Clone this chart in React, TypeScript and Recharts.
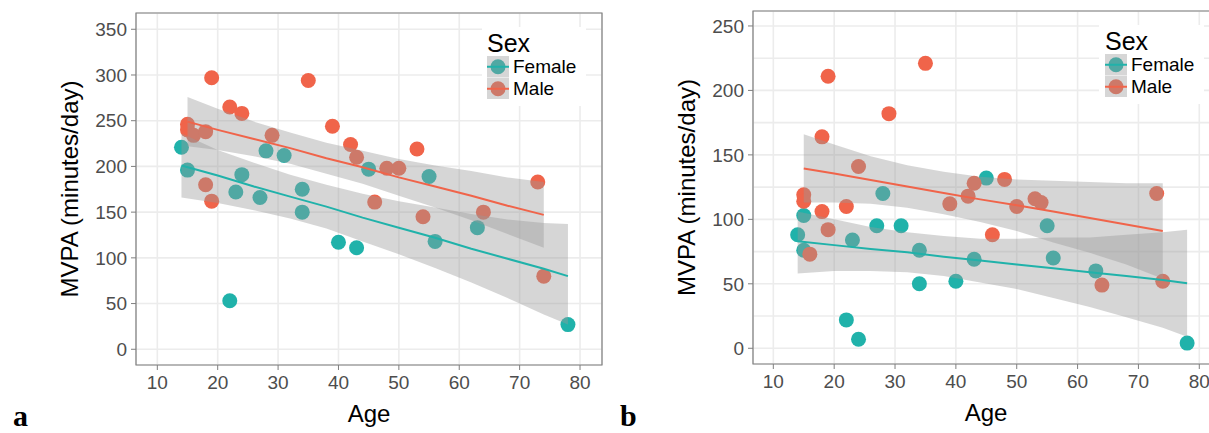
import { ComposedChart, Scatter, Line, Area, XAxis, YAxis, CartesianGrid, ReferenceArea, Legend, Label } from 'recharts'

const FEMALE = '#20B2AA'
const MALE = '#F0644A'
const BAND = '#999999'
const FONT = '"Liberation Sans", Arial, sans-serif'

// panel a – observed points
const femaleAgeA = [14, 15, 22, 23, 24, 27, 28, 31, 34, 34, 40, 43, 45, 55, 56, 63, 78]
const femaleMvpaA = [221, 196, 53, 172, 191, 166, 217, 212, 175, 150, 117, 111, 197, 189, 118, 133, 27]
const maleAgeA = [15, 15, 16, 18, 18, 19, 19, 22, 24, 29, 35, 39, 42, 43, 46, 48, 50, 53, 54, 64, 73, 74]
const maleMvpaA = [246, 240, 234, 238, 180, 162, 297, 265, 258, 234, 294, 244, 224, 210, 161, 198, 198, 219, 145, 150, 183, 80]

// panel b – observed points
const femaleAgeB = [14, 15, 15, 22, 23, 24, 27, 28, 31, 34, 34, 40, 43, 45, 55, 56, 63, 78]
const femaleMvpaB = [88, 103, 76, 22, 84, 7, 95, 120, 95, 76, 50, 52, 69, 132, 95, 70, 60, 4]
const maleAgeB = [15, 15, 16, 18, 18, 19, 19, 22, 24, 29, 35, 39, 42, 43, 46, 48, 50, 53, 54, 64, 73, 74]
const maleMvpaB = [119, 114, 73, 164, 106, 211, 92, 110, 141, 182, 221, 112, 118, 128, 88, 131, 110, 116, 113, 49, 120, 52]

const fitAgeF = [14, 20, 26, 32, 38, 44, 50, 56, 62, 68, 74, 78]
const fitAgeM = [15, 20, 26, 32, 38, 44, 50, 56, 62, 68, 74]

// panel a – lm fit with 95% band
const fitFA = [201, 190, 178, 167, 156, 144, 133, 122, 110, 99, 88, 80]
const loFA = [166, 160, 152, 143, 132, 118, 104, 89, 73, 56, 38, 27]
const hiFA = [236, 218, 204, 191, 180, 170, 162, 155, 148, 142, 138, 137]
const fitMA = [249, 240, 230, 220, 209, 199, 188, 178, 168, 157, 147]
const loMA = [222, 218, 211, 203, 192, 181, 168, 155, 141, 126, 111]
const hiMA = [276, 263, 249, 237, 226, 217, 208, 201, 195, 188, 183]

// panel b – lm fit with 95% band
const fitFB = [83, 80, 77, 74.5, 71, 68, 65, 62, 59, 56, 53, 50.5]
const loFB = [58, 60, 60, 59, 56, 51, 46, 39, 32, 24, 16, 9]
const hiFB = [106, 100, 94, 90, 87, 85, 85, 86, 86, 88, 90, 92]
const fitMB = [139.5, 135.5, 130.5, 125.5, 120.5, 115.5, 111, 106, 101, 96, 91]
const loMB = [113, 113, 112, 109, 104, 98, 91, 82, 74, 65, 54]
const hiMB = [166, 158, 149, 142, 137, 133, 131, 130, 129, 128, 128]

const xTicks = [10, 20, 30, 40, 50, 60, 70, 80]
const yTicksA = [0, 50, 100, 150, 200, 250, 300, 350]
const yGridA = [0, 25, 50, 75, 100, 125, 150, 175, 200, 225, 250, 275, 300, 325, 350]
const yTicksB = [0, 50, 100, 150, 200, 250]
const yGridB = [0, 25, 50, 75, 100, 125, 150, 175, 200, 225, 250]

function toPoints(ages: number[], vals: number[]) {
  return ages.map((age, i) => ({ age, mvpa: vals[i] }))
}

function fitTable(fFit: number[], fLo: number[], fHi: number[], mFit: number[], mLo: number[], mHi: number[]) {
  const ages = Array.from(new Set([...fitAgeF, ...fitAgeM])).sort((a, b) => a - b)
  return ages.map(age => {
    const i = fitAgeF.indexOf(age)
    const j = fitAgeM.indexOf(age)
    return {
      age,
      fFit: i >= 0 ? fFit[i] : undefined,
      fBand: i >= 0 ? [fLo[i], fHi[i]] : undefined,
      mFit: j >= 0 ? mFit[j] : undefined,
      mBand: j >= 0 ? [mLo[j], mHi[j]] : undefined,
    }
  })
}

const dot = (color: string) => (p: any) => <circle cx={p.cx} cy={p.cy} r={7.5} fill={color} />

function KeySwatch({ color }: { color: string }) {
  return (
    <svg width={22} height={21.5} style={{ display: 'block' }}>
      <rect x={0} y={0} width={22} height={21.5} fill="#ffffff" />
      <circle cx={11} cy={10.75} r={7.5} fill={color} />
      <rect x={0} y={0} width={22} height={21.5} fill={BAND} fillOpacity={0.4} />
      <line x1={0} x2={22} y1={10.75} y2={10.75} stroke={color} strokeWidth={2} />
    </svg>
  )
}

function SexLegend({ padLeft }: { padLeft: number }) {
  const row = (label: string, color: string) => (
    <div style={{ display: 'flex', alignItems: 'center', height: 21.5 }}>
      <KeySwatch color={color} />
      <span style={{ marginLeft: 4, fontSize: 19, lineHeight: '21.5px', color: '#000' }}>{label}</span>
    </div>
  )
  return (
    <div style={{ background: '#fff', fontFamily: FONT, padding: `4px 10px 7px ${padLeft}px` }}>
      <div style={{ fontSize: 25, lineHeight: '25px', color: '#000' }}>Sex</div>
      {row('Female', FEMALE)}
      {row('Male', MALE)}
    </div>
  )
}

interface PanelProps {
  width: number
  margin: { top: number; right: number; left: number; bottom: number }
  xDomain: [number, number]
  yDomain: [number, number]
  yTicks: number[]
  yGrid: number[]
  female: { age: number; mvpa: number }[]
  male: { age: number; mvpa: number }[]
  table: ReturnType<typeof fitTable>
  legendAt: { left: number; top: number; padLeft: number }
}

function Panel(p: PanelProps) {
  const tick = { fill: '#4d4d4d', fontSize: 19, fontFamily: FONT }
  return (
    <ComposedChart width={p.width} height={433} data={p.table} margin={p.margin}>
      <CartesianGrid yAxisId="grid" stroke="#ececec" strokeWidth={1.6} />
      <XAxis
        type="number"
        dataKey="age"
        domain={p.xDomain}
        ticks={xTicks}
        allowDataOverflow
        axisLine={false}
        tickLine={{ stroke: '#7f7f7f' }}
        tickSize={5}
        tickMargin={6}
        tick={tick}
        height={62}
      >
        <Label value="Age" position="insideBottom" offset={5} fill="#000" fontSize={24} fontFamily={FONT} />
      </XAxis>
      <YAxis
        type="number"
        domain={p.yDomain}
        ticks={p.yTicks}
        allowDataOverflow
        axisLine={false}
        tickLine={{ stroke: '#7f7f7f' }}
        tickSize={5}
        tickMargin={4}
        tick={tick}
        width={134}
      >
        <Label value="MVPA (minutes/day)" angle={-90} position="center" fill="#000" fontSize={24} fontFamily={FONT} />
      </YAxis>
      <YAxis yAxisId="grid" type="number" domain={p.yDomain} ticks={p.yGrid} allowDataOverflow hide />
      <Scatter data={p.female} dataKey="mvpa" fill={FEMALE} shape={dot(FEMALE)} isAnimationActive={false} zIndex={50} />
      <Scatter data={p.male} dataKey="mvpa" fill={MALE} shape={dot(MALE)} isAnimationActive={false} zIndex={50} />
      <Area dataKey="fBand" type="linear" fill={BAND} fillOpacity={0.4} stroke="none" connectNulls isAnimationActive={false} activeDot={false} zIndex={100} />
      <Area dataKey="mBand" type="linear" fill={BAND} fillOpacity={0.4} stroke="none" connectNulls isAnimationActive={false} activeDot={false} zIndex={100} />
      <Line dataKey="fFit" type="linear" stroke={FEMALE} strokeWidth={2} dot={false} activeDot={false} connectNulls isAnimationActive={false} zIndex={400} />
      <Line dataKey="mFit" type="linear" stroke={MALE} strokeWidth={2} dot={false} activeDot={false} connectNulls isAnimationActive={false} zIndex={400} />
      <ReferenceArea
        x1={p.xDomain[0]}
        x2={p.xDomain[1]}
        y1={p.yDomain[0]}
        y2={p.yDomain[1]}
        fill="none"
        stroke="#7f7f7f"
        strokeWidth={1.2}
        ifOverflow="visible"
      />
      <Legend
        layout="vertical"
        align="center"
        verticalAlign="middle"
        content={() => <SexLegend padLeft={p.legendAt.padLeft} />}
        wrapperStyle={{ left: p.legendAt.left, top: p.legendAt.top, width: 'auto', height: 'auto' }}
      />
    </ComposedChart>
  )
}

const letterStyle = {
  position: 'absolute' as const,
  top: 401,
  fontFamily: '"Liberation Serif", "Times New Roman", serif',
  fontWeight: 700,
  fontSize: 30,
  lineHeight: '30px',
  color: '#000',
}

export default function App() {
  return (
    <div style={{ position: 'absolute', left: 0, top: 0, width: 1209, height: 433, overflow: 'hidden', background: '#fff' }}>
      <div style={{ position: 'absolute', left: 0, top: 0 }}>
        <Panel
          width={610}
          margin={{ top: 13, right: 8, left: 2, bottom: 6 }}
          xDomain={[6.47, 83.64]}
          yDomain={[-17.2, 367.8]}
          yTicks={yTicksA}
          yGrid={yGridA}
          female={toPoints(femaleAgeA, femaleMvpaA)}
          male={toPoints(maleAgeA, maleMvpaA)}
          table={fitTable(fitFA, loFA, hiFA, fitMA, loMA, hiMA)}
          legendAt={{ left: 482, top: 27, padLeft: 5 }}
        />
      </div>
      <div style={{ position: 'absolute', left: 610, top: 0 }}>
        <Panel
          width={620}
          margin={{ top: 11, right: 11, left: 9, bottom: 7 }}
          xDomain={[6.66, 83.24]}
          yDomain={[-12.2, 261.6]}
          yTicks={yTicksB}
          yGrid={yGridB}
          female={toPoints(femaleAgeB, femaleMvpaB)}
          male={toPoints(maleAgeB, maleMvpaB)}
          table={fitTable(fitFB, loFB, hiFB, fitMB, loMB, hiMB)}
          legendAt={{ left: 489, top: 25, padLeft: 6 }}
        />
      </div>
      <div style={{ ...letterStyle, left: 13 }}>a</div>
      <div style={{ ...letterStyle, left: 620 }}>b</div>
    </div>
  )
}
